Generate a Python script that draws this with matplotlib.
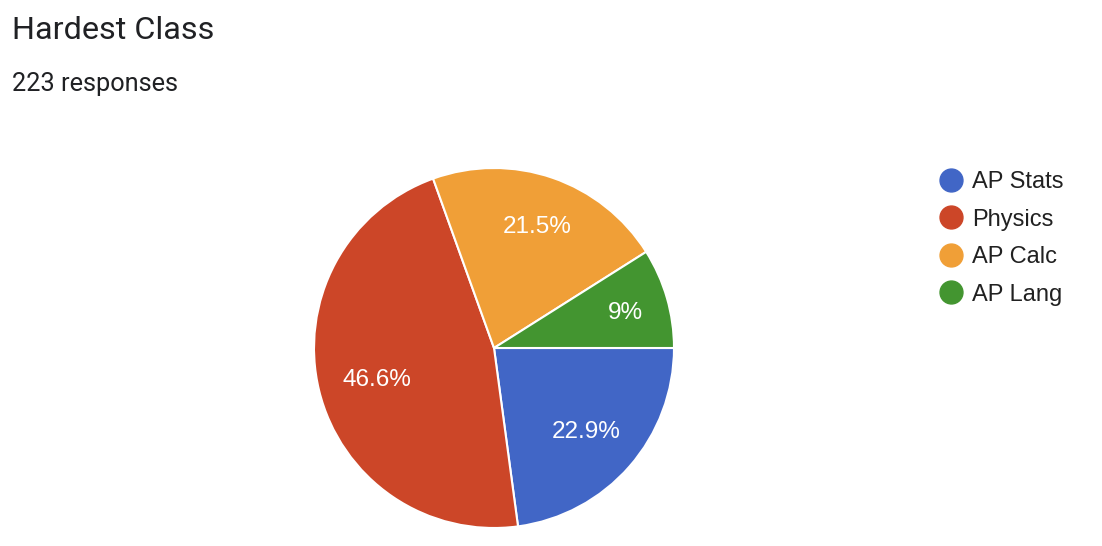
import matplotlib
matplotlib.use("Agg")
import matplotlib.pyplot as plt
from matplotlib.lines import Line2D
import numpy as np

title = "Hardest Class"
subtitle = "223 responses"
categories = ["AP Stats", "Physics", "AP Calc", "AP Lang"]
counts = [51, 104, 48, 20]
colors = ["#4166c6", "#cc4628", "#f09f37", "#439530"]
label_radius = [0.68, 0.67, 0.73, 0.76]

W, H = 1102, 546
fig = plt.figure(figsize=(W / 100, H / 100), dpi=100)
fig.patch.set_facecolor("white")

fig.text(12 / W, 1 - 39 / H, title, fontsize=23.3, family=["Roboto", "DejaVu Sans"],
         color="#202124", va="baseline", ha="left")
fig.text(12 / W, 1 - 91 / H, subtitle, fontsize=18.3, family=["Roboto", "DejaVu Sans"],
         color="#202124", va="baseline", ha="left")

cx, cy, r = 494, 348, 180
ax = fig.add_axes([(cx - r) / W, (H - cy - r) / H, 2 * r / W, 2 * r / H])


def fmt(p):
    s = f"{p:.1f}"
    if s.endswith(".0"):
        s = s[:-2]
    return s + "%"


wedges, texts, autotexts = ax.pie(
    counts, colors=colors, startangle=0, counterclock=False,
    autopct=fmt, pctdistance=0.68,
    wedgeprops=dict(edgecolor="white", linewidth=1.5),
    textprops=dict(color="white", fontsize=17.5, family=["Liberation Sans", "DejaVu Sans"]),
)
y_nudge = -3 / r
for w, t, lr in zip(wedges, autotexts, label_radius):
    ang = np.deg2rad((w.theta1 + w.theta2) / 2)
    t.set_position((lr * np.cos(ang), lr * np.sin(ang) + y_nudge))
ax.set_xlim(-1, 1)
ax.set_ylim(-1, 1)
ax.set_aspect("equal")
ax.axis("off")

handles = [Line2D([0], [0], marker="o", linestyle="none", markersize=16.5,
                  markerfacecolor=c, markeredgecolor=c) for c in colors]
leg = fig.legend(handles, categories, loc="upper left",
                 bbox_to_anchor=(937 / W, 1 - 171 / H), frameon=False,
                 prop=dict(family=["Liberation Sans", "DejaVu Sans"], size=17),
                 labelspacing=0.66, handletextpad=0.3, handlelength=1.2,
                 borderaxespad=0, borderpad=0)
for t in leg.get_texts():
    t.set_color("#212121")

fig.savefig("out.png", dpi=100, facecolor="white")
